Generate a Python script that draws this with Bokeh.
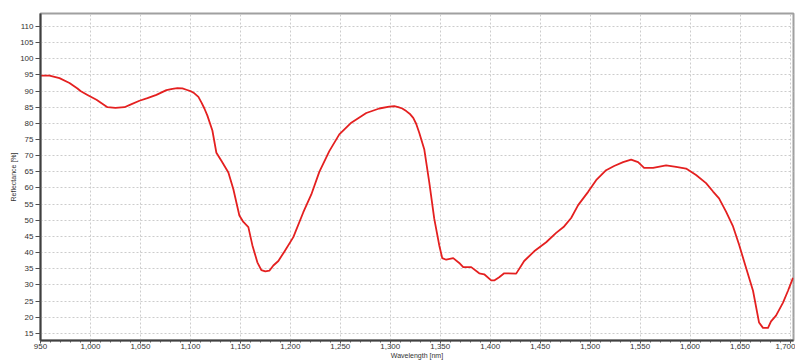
from bokeh.plotting import figure
from bokeh.models import Range1d, SingleIntervalTicker, NumeralTickFormatter
from bokeh.embed import file_html
from bokeh.resources import INLINE

wavelength = [950, 959, 969, 979, 987, 990, 997, 1006, 1017, 1025, 1034, 1040, 1049, 1057, 1066,
              1076, 1082, 1087, 1092, 1096, 1100, 1104, 1108, 1111, 1114, 1117, 1122, 1126, 1131, 1138, 1143, 1149, 1153,
              1158, 1162, 1167, 1171, 1175, 1179, 1183, 1188, 1194, 1203, 1213, 1221, 1229, 1239,
              1249, 1261, 1276, 1289, 1299, 1304, 1308, 1312, 1316, 1320, 1323, 1326, 1329, 1334, 1339, 1344, 1349,
              1352, 1356, 1363, 1369, 1373, 1381, 1389, 1394, 1401, 1404, 1409, 1414, 1426,
              1434, 1444, 1456, 1466, 1474, 1481, 1488, 1498, 1506, 1516, 1524, 1533, 1541,
              1548, 1554, 1563, 1576, 1586, 1596, 1606, 1616, 1623, 1629, 1636, 1643, 1649,
              1656, 1663, 1669, 1673, 1678, 1681, 1686, 1693, 1698, 1703]
reflectance = [94.8, 94.8, 94.0, 92.5, 90.8, 90.0, 88.8, 87.3, 85.0, 84.8, 85.0, 85.8, 87.0, 87.8, 88.8,
               90.3, 90.7, 90.9, 90.8, 90.4, 90.0, 89.3, 88.2, 86.5, 84.6, 82.4, 77.8, 70.9, 68.4, 64.8, 59.6, 51.5, 49.5,
               47.9, 42.3, 37.0, 34.6, 34.2, 34.4, 36.0, 37.4, 40.3, 44.8, 52.5, 58.0, 65.0, 71.4,
               76.6, 80.2, 83.2, 84.6, 85.2, 85.3, 85.0, 84.6, 83.8, 82.8, 81.7, 79.8, 77.1, 72.0, 61.8, 50.5, 42.3,
               38.3, 37.8, 38.3, 36.8, 35.5, 35.5, 33.6, 33.3, 31.4, 31.4, 32.4, 33.6, 33.5,
               37.4, 40.4, 43.2, 46.1, 48.1, 50.7, 54.7, 58.8, 62.4, 65.5, 66.8, 68.0, 68.8,
               68.0, 66.2, 66.2, 67.0, 66.5, 66.0, 64.0, 61.5, 58.9, 56.8, 52.7, 48.1, 42.5,
               35.3, 28.2, 18.4, 16.7, 16.7, 18.7, 20.5, 24.5, 28.2, 32.2]

x_label = "Wavelength [nm]"
y_label = "Reflectance [%]"

p = figure(width=795, height=361, output_backend="svg", toolbar_location=None,
           x_range=Range1d(950, 1703.5), y_range=Range1d(12.8, 114),
           min_border_left=40, min_border_right=2, min_border_top=13, min_border_bottom=0)
p.background_fill_color = "white"
p.border_fill_color = "white"
p.outline_line_color = "#a0a0a0"
p.outline_line_width = 2

p.line(wavelength, reflectance, line_color="#e42020", line_width=1.8, line_join="round")

font = "Liberation Sans"
for ax in (p.xaxis[0], p.yaxis[0]):
    ax.axis_line_color = "#404040"
    ax.axis_line_width = 2
    ax.major_tick_line_color = "#505050"
    ax.minor_tick_line_color = "#505050"
    ax.major_label_text_font = font
    ax.major_label_text_font_size = "8px"
    ax.major_label_text_color = "#333333"
    ax.axis_label_text_font = font
    ax.axis_label_text_font_size = "7px"
    ax.axis_label_text_font_style = "normal"
    ax.axis_label_text_color = "#333333"
    ax.major_tick_in = 0
    ax.minor_tick_in = 0

p.xaxis[0].ticker = SingleIntervalTicker(interval=50, num_minor_ticks=5)
p.xaxis[0].formatter = NumeralTickFormatter(format="0,0")
p.xaxis[0].major_tick_out = 3
p.xaxis[0].minor_tick_out = 2
p.xaxis[0].major_label_standoff = 0
p.xaxis[0].axis_label_standoff = 0
p.xaxis[0].axis_label = x_label

p.yaxis[0].ticker = SingleIntervalTicker(interval=5, num_minor_ticks=0)
p.yaxis[0].major_tick_out = 5
p.yaxis[0].minor_tick_out = 0
p.yaxis[0].major_label_standoff = 2
p.yaxis[0].axis_label_standoff = 0
p.yaxis[0].axis_label = y_label

for g in (p.xgrid[0], p.ygrid[0]):
    g.grid_line_color = "#cccccc"
    g.grid_line_dash = "2 2"
    g.grid_line_width = 1

open("out.html", "w").write(file_html(p, INLINE))
